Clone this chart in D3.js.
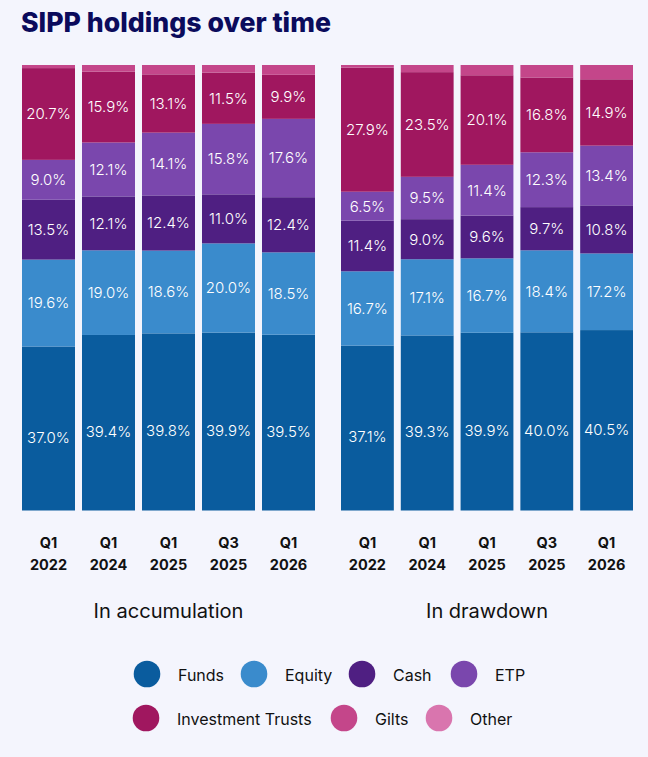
<!DOCTYPE html>
<html>
<head>
<meta charset="utf-8">
<script src="https://cdn.jsdelivr.net/npm/d3@7/dist/d3.min.js"></script>
<style>
  html, body { margin: 0; padding: 0; background: #f4f5fd; }
  svg { display: block; }
  text { font-family: Inter, "Open Sans", sans-serif; }
</style>
</head>
<body>
<svg id="chart" width="648" height="757"></svg>
<script>
// ---- data ----
const categories = ["Q1 2022", "Q1 2024", "Q1 2025", "Q3 2025", "Q1 2026"];
const seriesNames = ["Funds", "Equity", "Cash", "ETP", "Investment Trusts", "Gilts", "Other"];
const seriesColors = ["#0a5c9e", "#3a8bcc", "#4f1f82", "#7a47ad", "#a0175f", "#c4468a", "#d975ae"];
const labelledSeries = ["Funds", "Equity", "Cash", "ETP", "Investment Trusts"];

const accFunds  = [37.0, 39.4, 39.8, 39.9, 39.5];
const accEquity = [19.6, 19.0, 18.6, 20.0, 18.5];
const accCash   = [13.5, 12.1, 12.4, 11.0, 12.4];
const accETP    = [9.0, 12.1, 14.1, 15.8, 17.6];
const accIT     = [20.7, 15.9, 13.1, 11.5, 9.9];
const accGilts  = [0.7, 1.5, 2.1, 1.7, 2.2];
const accOther  = [0, 0, 0, 0, 0];

const drwFunds  = [37.1, 39.3, 39.9, 40.0, 40.5];
const drwEquity = [16.7, 17.1, 16.7, 18.4, 17.2];
const drwCash   = [11.4, 9.0, 9.6, 9.7, 10.8];
const drwETP    = [6.5, 9.5, 11.4, 12.3, 13.4];
const drwIT     = [27.9, 23.5, 20.1, 16.8, 14.9];
const drwGilts  = [0.6, 1.6, 2.3, 2.8, 3.2];
const drwOther  = [0, 0, 0, 0, 0];

const panelTitles = ["In accumulation", "In drawdown"];

function buildRows(arrs) {
  return categories.map((c, i) => {
    const row = { cat: c };
    seriesNames.forEach((s, k) => row[s] = arrs[k][i]);
    return row;
  });
}
const panels = [
  { title: panelTitles[0], rows: buildRows([accFunds, accEquity, accCash, accETP, accIT, accGilts, accOther]), range: [22, 315] },
  { title: panelTitles[1], rows: buildRows([drwFunds, drwEquity, drwCash, drwETP, drwIT, drwGilts, drwOther]), range: [341, 633] }
];

// ---- drawing ----
const svg = d3.select("#chart");
const color = d3.scaleOrdinal().domain(seriesNames).range(seriesColors);
const y = d3.scaleLinear().domain([0, 1]).range([510.5, 65]);

function fitText(sel, target, base) {
  sel.style("font-size", base + "px");
  const w = sel.node().getComputedTextLength();
  sel.style("font-size", (base * target / w).toFixed(2) + "px");
}

// title
const title = svg.append("text")
  .attr("x", 21).attr("y", 32)
  .attr("fill", "#0b0b5c")
  .style("font-weight", 800)
  .text("SIPP holdings over time");
fitText(title, 310, 24);

const stack = d3.stack().keys(seriesNames).offset(d3.stackOffsetExpand);

panels.forEach(p => {
  const x = d3.scaleBand().domain(categories).range(p.range).paddingInner(7 / 60).paddingOuter(0);
  const g = svg.append("g");
  const layers = stack(p.rows);

  g.selectAll("g.layer").data(layers).join("g")
    .attr("class", "layer")
    .attr("fill", d => color(d.key))
    .selectAll("rect").data(d => d).join("rect")
    .attr("x", d => x(d.data.cat))
    .attr("width", x.bandwidth())
    .attr("y", d => y(d[1]))
    .attr("height", d => Math.max(0, y(d[0]) - y(d[1])));

  layers.filter(l => labelledSeries.includes(l.key)).forEach(l => {
    g.selectAll(null).data(l).join("text")
      .attr("x", d => x(d.data.cat) + x.bandwidth() / 2)
      .attr("y", d => (y(d[0]) + y(d[1])) / 2 + (l.key === "Funds" ? 9 : 0))
      .attr("dy", "0.36em")
      .attr("text-anchor", "middle")
      .attr("fill", "#ffffff")
      .style("font-size", "15px")
      .style("font-weight", 300)
      .text(d => d.data[l.key].toFixed(1) + "%");
  });

  // axis
  const axis = d3.axisBottom(x).tickSize(0).tickPadding(0);
  const ax = g.append("g").attr("transform", "translate(0,530)").call(axis);
  ax.select(".domain").remove();
  ax.selectAll(".tick text").each(function(d) {
    const t = d3.select(this);
    const parts = d.split(" ");
    t.text(null).attr("y", 0).attr("dy", null)
      .attr("fill", "#111111")
      .style("font-family", "Inter, sans-serif")
      .style("font-size", "14.5px")
      .style("font-weight", 700);
    t.append("tspan").attr("x", 0).attr("y", 18).text(parts[0]);
    t.append("tspan").attr("x", 0).attr("y", 40).text(parts[1]);
  });

  // panel title
  const pt = g.append("text")
    .attr("x", (p.range[0] + p.range[1]) / 2)
    .attr("y", 618)
    .attr("text-anchor", "middle")
    .attr("fill", "#111111")
    .style("font-weight", 400)
    .text(p.title);
  fitText(pt, p.title === panelTitles[0] ? 150 : 122, 18);
});

// legend
const legendItems = [
  { name: "Funds", cx: 147, cy: 674 },
  { name: "Equity", cx: 254, cy: 674 },
  { name: "Cash", cx: 362, cy: 674 },
  { name: "ETP", cx: 464, cy: 674 },
  { name: "Investment Trusts", cx: 146, cy: 718 },
  { name: "Gilts", cx: 344, cy: 718 },
  { name: "Other", cx: 439, cy: 718 }
];
const lg = svg.append("g").selectAll("g").data(legendItems).join("g");
lg.append("circle")
  .attr("cx", d => d.cx).attr("cy", d => d.cy).attr("r", 13.3)
  .attr("fill", d => color(d.name));
lg.append("text")
  .attr("x", d => d.cx + 31).attr("y", d => d.cy + 1)
  .attr("dy", "0.35em")
  .attr("fill", "#111111")
  .style("font-size", "16px")
  .text(d => d.name);
</script>
</body>
</html>
